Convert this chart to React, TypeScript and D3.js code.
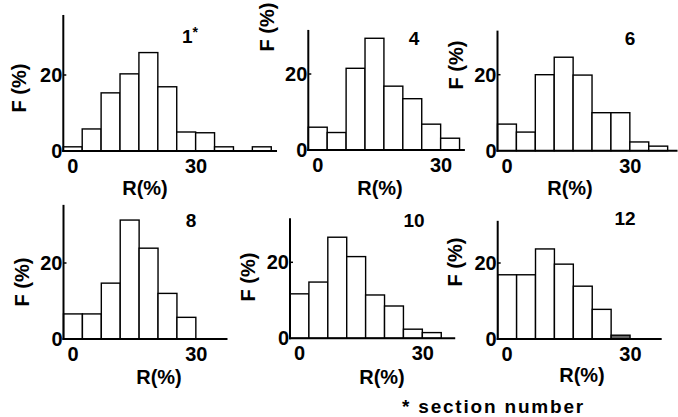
import React from "react";
import * as d3 from "d3";

// ---- data (F % per R bin, bins centred at 0, 4.6, 9.2, ...) ----
const BIN_WIDTH = 4.6;
const sectionNames = ["1", "4", "6", "8", "10", "12"];
const section1 = [1.1, 5.8, 15.3, 20.3, 25.9, 16.9, 5.0, 4.8, 1.1, 0, 1.1];
const section4 = [6.0, 4.6, 21.5, 29.4, 16.8, 13.5, 6.8, 3.1];
const section6 = [7.0, 4.9, 20.0, 24.6, 19.9, 10.0, 10.0, 2.3, 1.2];
const section8 = [6.6, 6.6, 14.7, 31.3, 23.9, 12.0, 5.7];
const section10 = [11.7, 14.8, 26.6, 21.5, 11.4, 8.5, 2.4, 1.5];
const section12 = [16.9, 16.9, 23.7, 19.7, 13.9, 7.8, 1.0];
const yTicks = [0, 20];
const xTicks = [0, 30];
const xTitle = "R(%)";
const yTitle = "F (%)";
const footnote = "* section number";

const seriesList = [section1, section4, section6, section8, section10, section12];

// ---- layout (pixels) ----
const KX = 4.11; // px per % on R axis
const KY = 3.8; // px per % on F axis
const layout = [
  { ox: 63.3, base: 151, yMax: 35.8, xMax: 49.7, xl: [145, 195], yl: [19, 88], tl: [190, 43], star: true, shaded: -1 },
  { ox: 308.3, base: 150, yMax: 31.6, xMax: 35.8, xl: [380, 195], yl: [267, 27], tl: [414, 45], star: false, shaded: -1 },
  { ox: 497.5, base: 150.7, yMax: 31.6, xMax: 41.5, xl: [570, 195], yl: [456, 65], tl: [630, 45], star: false, shaded: -1 },
  { ox: 63.5, base: 339, yMax: 35.3, xMax: 37.6, xl: [159, 384], yl: [22, 282], tl: [191, 227], star: false, shaded: -1 },
  { ox: 290, base: 338.3, yMax: 31.6, xMax: 37.9, xl: [382, 384], yl: [248, 277], tl: [414, 227], star: false, shaded: -1 },
  { ox: 497.7, base: 339, yMax: 31.1, xMax: 37.6, xl: [582, 382], yl: [455, 262], tl: [625, 225], star: false, shaded: 6 },
];

const FONT = "'Liberation Sans', Arial, sans-serif";

function Panel({ values, name, L }: any) {
  const x0 = -BIN_WIDTH / 2;
  const x = d3.scaleLinear().domain([x0, L.xMax]).range([L.ox, L.ox + (L.xMax - x0) * KX]);
  const y = d3.scaleLinear().domain([0, L.yMax]).range([L.base, L.base - L.yMax * KY]);
  return (
    <g>
      {values.map((v: number, i: number) =>
        v > 0 ? (
          <rect
            key={i}
            x={x((i - 0.5) * BIN_WIDTH)}
            y={y(v)}
            width={x((i + 0.5) * BIN_WIDTH) - x((i - 0.5) * BIN_WIDTH)}
            height={y(0) - y(v)}
            fill={i === L.shaded ? "#666" : "#fff"}
            stroke="#000"
            strokeWidth={1.4}
          />
        ) : null
      )}
      {/* axes */}
      <line x1={x(x0)} x2={x(x0)} y1={y(0) + 1} y2={y(L.yMax)} stroke="#000" strokeWidth={2} />
      <line x1={x(x0) - 1} x2={x(L.xMax)} y1={y(0)} y2={y(0)} stroke="#000" strokeWidth={2} />
      {yTicks.map((t) => (
        <g key={"yt" + t}>
          {t > 0 && <line x1={x(x0)} x2={x(x0) + 3} y1={y(t)} y2={y(t)} stroke="#000" strokeWidth={1.5} />}
          <text x={x(x0) - 1} y={y(t) + 7} textAnchor="end" fontFamily={FONT} fontWeight="bold" fontSize={20}>
            {t}
          </text>
        </g>
      ))}
      {xTicks.map((t) => (
        <text key={"xt" + t} x={x(t)} y={y(0) + 22} textAnchor="middle" fontFamily={FONT} fontWeight="bold" fontSize={20}>
          {t}
        </text>
      ))}
      <text x={L.xl[0]} y={L.xl[1]} textAnchor="middle" fontFamily={FONT} fontWeight="bold" fontSize={20}>
        {xTitle}
      </text>
      <text
        transform={`translate(${L.yl[0] + 7},${L.yl[1]}) rotate(-90)`}
        textAnchor="middle"
        fontFamily={FONT}
        fontWeight="bold"
        fontSize={20}
      >
        {yTitle}
      </text>
      <text x={L.tl[0]} y={L.tl[1]} textAnchor="middle" fontFamily={FONT} fontWeight="bold" fontSize={19}>
        {name}
        {L.star && (
          <tspan fontSize={14} dy={-6}>
            *
          </tspan>
        )}
      </text>
    </g>
  );
}

export default function App() {
  return (
    <svg width={678} height={417} style={{ position: "absolute", left: 0, top: 0, background: "#fff" }}>
      <rect width={678} height={417} fill="#fff" />
      {seriesList.map((vals, i) => (
        <Panel key={i} values={vals} name={sectionNames[i]} L={layout[i]} />
      ))}
      <text x={402} y={413} fontFamily={FONT} fontWeight="bold" fontSize={19} letterSpacing={1.8}>
        {footnote}
      </text>
    </svg>
  );
}
